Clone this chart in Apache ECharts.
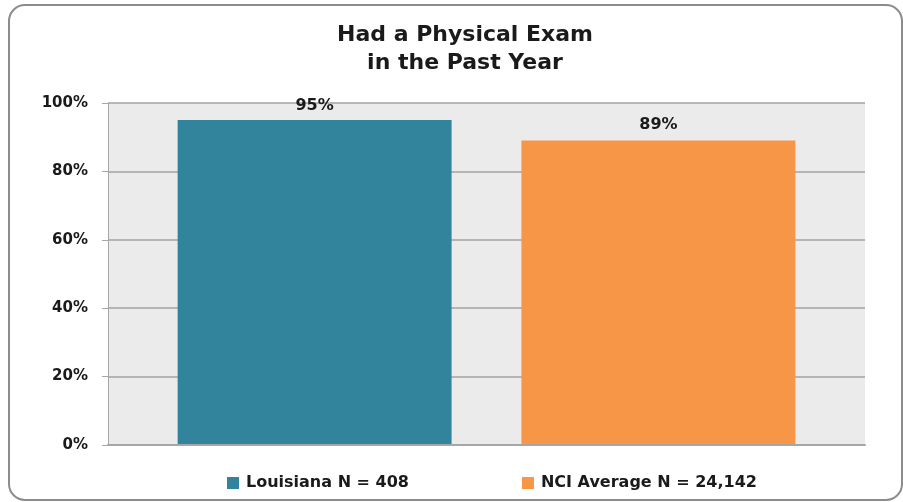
<!DOCTYPE html>
<html>
<head>
<meta charset="utf-8">
<script src="https://cdn.jsdelivr.net/npm/echarts@6/dist/echarts.min.js"></script>
<style>
  html, body { margin: 0; padding: 0; background: #ffffff; }
  #chart { width: 903px; height: 502px; }
</style>
</head>
<body>
<div id="chart"></div>
<script>
// Share of respondents who had a physical exam in the past year
const categories = ['Had a Physical Exam'];
const seriesNames = ['Louisiana N = 408', 'NCI Average N = 24,142'];
const louisianaValues = [95];
const nciValues = [89];
const yTicks = [0, 20, 40, 60, 80, 100];

const FONT = '"DejaVu Sans", "Open Sans", sans-serif';
const TEXT = '#1a1a1a';

const chart = echarts.init(document.getElementById('chart'), null, { renderer: 'canvas' });

chart.setOption({
  animation: false,
  backgroundColor: '#ffffff',
  title: {
    text: 'Had a Physical Exam\nin the Past Year',
    left: 460,
    top: 16,
    textAlign: 'center',
    textStyle: {
      fontFamily: FONT,
      fontSize: 22,
      fontWeight: 'bold',
      color: TEXT,
      lineHeight: 28
    }
  },
  legend: {
    data: seriesNames,
    top: 470,
    left: 222,
    itemWidth: 12,
    itemHeight: 12,
    itemGap: 113,
    icon: 'rect',
    textStyle: { fontFamily: FONT, fontSize: 16, fontWeight: 'bold', color: TEXT, padding: [0, 0, 0, 2] }
  },
  grid: { left: 108, right: 38, top: 103, bottom: 57, show: true, backgroundColor: '#ebebeb', borderWidth: 0 },
  xAxis: {
    type: 'category',
    data: categories,
    z: 3,
    axisLine: { show: true, lineStyle: { color: '#a6a6a6', width: 2 } },
    axisTick: { show: false },
    axisLabel: { show: false }
  },
  yAxis: {
    type: 'value',
    min: yTicks[0],
    max: yTicks[yTicks.length - 1],
    interval: 20,
    axisLine: { show: true, lineStyle: { color: '#a6a6a6', width: 1 } },
    axisTick: { show: true, length: 6, lineStyle: { color: '#a6a6a6' } },
    axisLabel: {
      formatter: v => v + '%',
      fontFamily: FONT,
      fontSize: 15,
      fontWeight: 'bold',
      color: TEXT,
      margin: 20
    },
    splitLine: { show: true, lineStyle: { color: '#a3a3a3', width: 1.5 } }
  },
  series: [
    {
      name: seriesNames[0],
      type: 'bar',
      data: louisianaValues,
      barGap: '25.5%',
      barCategoryGap: '18.4%',
      itemStyle: { color: '#31849b' },
      label: {
        show: true, position: 'top', distance: 6,
        formatter: p => p.value + '%',
        fontFamily: FONT, fontSize: 16, fontWeight: 'bold', color: TEXT
      }
    },
    {
      name: seriesNames[1],
      type: 'bar',
      data: nciValues,
      itemStyle: { color: '#f79646' },
      label: {
        show: true, position: 'top', distance: 8,
        formatter: p => p.value + '%',
        fontFamily: FONT, fontSize: 16, fontWeight: 'bold', color: TEXT
      }
    }
  ],
  graphic: [
    {
      type: 'rect',
      shape: { x: 9, y: 5, width: 893, height: 495, r: 16 },
      style: { fill: 'none', stroke: '#8c8c8c', lineWidth: 2 },
      silent: true,
      z: 100
    }
  ]
});
</script>
</body>
</html>
